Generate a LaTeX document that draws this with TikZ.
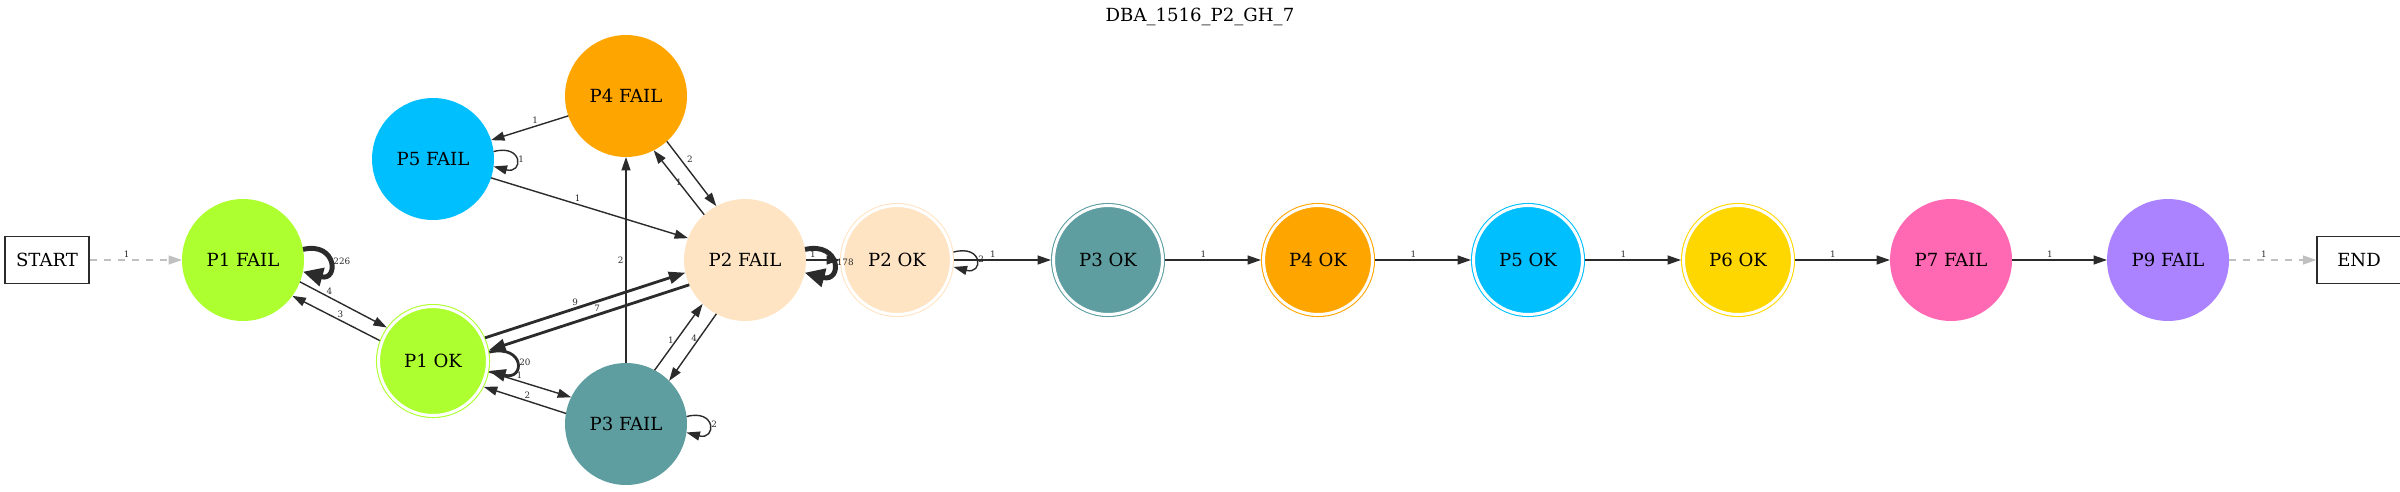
\documentclass[tikz,border=0pt]{standalone}
\usepackage{fontspec}
\setmainfont{DejaVu Serif}
\usetikzlibrary{arrows.meta}

\definecolor{edgecol}{HTML}{2B2B2B}
\definecolor{fadecol}{HTML}{C0C0C0}
\definecolor{p1col}{HTML}{ADFF2F}
\definecolor{p2col}{HTML}{FFE4C4}
\definecolor{p3col}{HTML}{5F9EA0}
\definecolor{p4col}{HTML}{FFA500}
\definecolor{p5col}{HTML}{00BFFF}
\definecolor{p6col}{HTML}{FFD700}
\definecolor{p7col}{HTML}{FF69B4}
\definecolor{p9col}{HTML}{AB82FF}

\begin{document}
\begin{tikzpicture}[
        x=0.02cm,y=-0.02cm,
        font=\fontsize{10.3}{12}\selectfont,
        fail/.style={circle,minimum size=2.44cm,inner sep=0pt,outer sep=0pt},
        ok/.style={circle,minimum size=2.18cm,inner sep=0pt,outer sep=0.05cm,
            line width=0.6pt,double=white,double distance=0.06cm},
        terminal/.style={draw=edgecol,line width=0.7pt,minimum width=1.68cm,
            minimum height=0.94cm,inner sep=0pt},
        arrow/.style={-{Triangle[length=2.7mm,width=1.8mm]},draw=edgecol,line width=0.8pt},
        heavy/.style={-{Triangle[length=3.3mm,width=2.4mm]},line width=1.6pt},
        loop heavy/.style={-{Triangle[length=4mm,width=3.6mm]},line width=2.8pt},
        faded/.style={-{Triangle[length=2.7mm,width=1.8mm]},draw=fadecol,
            dash pattern=on 4pt off 4pt,line width=0.8pt},
        lbl/.style={font=\fontsize{5}{6}\selectfont,text=edgecol,inner sep=1pt},
    ]
        \useasboundingbox (0,0) rectangle (2400,491);

        % title
        \node (title) at (1200,17) {DBA\_1516\_P2\_GH\_7};

        % ends
        \node (start) at (47,260)   [terminal] {START};
        \node (stop)  at (2359,260) [terminal] {END};

        % fail states
        \node (p1fail) at (243,260)  [fail,fill=p1col] {P1 FAIL};
        \node (p5fail) at (433,159)  [fail,fill=p5col] {P5 FAIL};
        \node (p4fail) at (626,96)   [fail,fill=p4col] {P4 FAIL};
        \node (p2fail) at (745,260)  [fail,fill=p2col] {P2 FAIL};
        \node (p3fail) at (626,424)  [fail,fill=p3col] {P3 FAIL};
        \node (p7fail) at (1951,260) [fail,fill=p7col] {P7 FAIL};
        \node (p9fail) at (2168,260) [fail,fill=p9col] {P9 FAIL};

        % ok states
        \node (p1ok) at (433,361)  [ok,draw=p1col,fill=p1col] {P1 OK};
        \node (p2ok) at (897,260)  [ok,draw=p2col,fill=p2col] {P2 OK};
        \node (p3ok) at (1108,260) [ok,draw=p3col,fill=p3col] {P3 OK};
        \node (p4ok) at (1318,260) [ok,draw=p4col,fill=p4col] {P4 OK};
        \node (p5ok) at (1528,260) [ok,draw=p5col,fill=p5col] {P5 OK};
        \node (p6ok) at (1738,260) [ok,draw=p6col,fill=p6col] {P6 OK};

        % p1
        \draw[faded] (start) -- (p1fail) node[lbl,pos=0.4,above] {1};
        \draw[arrow,loop heavy] (p1fail.10) .. controls +(34,-8) and +(36,10) .. (p1fail.-11)
            node[lbl,pos=0.5,right] {226};
        \draw[arrow] (p1fail.-21) -- (p1ok.144) node[lbl,pos=0.34,above] {4};
        \draw[arrow] (p1ok.159) -- (p1fail.-36) node[lbl,pos=0.45,above] {3};
        \draw[arrow,heavy] (p1ok.9) .. controls +(36,-8) and +(36,10) .. (p1ok.-10)
            node[lbl,pos=0.5,right] {20};
        \draw[arrow,heavy] (p1ok.24) -- (p2fail.192) node[lbl,pos=0.45,above] {9};
        \draw[arrow,heavy] (p2fail.204) -- (p1ok.11) node[lbl,pos=0.46,above] {7};
        \draw[arrow] (p1ok.-11) -- (p3fail.154) node[lbl,pos=0.37,above] {1};
        \draw[arrow] (p3fail.170) -- (p1ok.-27) node[lbl,pos=0.47,above] {2};

        % p4 and p5
        \draw[arrow] (p4fail.199) -- (p5fail.18) node[lbl,pos=0.43,above] {1};
        \draw[arrow] (p5fail.7) .. controls +(30,-8) and +(30,8) .. (p5fail.-7)
            node[lbl,pos=0.5,right] {1};
        \draw[arrow] (p5fail.-18) -- (p2fail.159) node[lbl,pos=0.44,above] {1};
        \draw[arrow] (p4fail.-48) -- (p2fail.118) node[lbl,pos=0.36,above right] {2};
        \draw[arrow] (p2fail.132) -- (p4fail.-63) node[lbl,pos=0.5] {1};
        \draw[arrow] (p3fail) -- (p4fail) node[lbl,pos=0.5,left] {2};

        % p2 and p3
        \draw[arrow] (p3fail.62) -- (p2fail.226) node[lbl,pos=0.45,left] {1};
        \draw[arrow] (p2fail.242) -- (p3fail.45) node[lbl,pos=0.36,left] {4};
        \draw[arrow] (p3fail.7) .. controls +(30,-8) and +(30,8) .. (p3fail.-8)
            node[lbl,pos=0.5,right] {2};
        \draw[arrow] (p2fail) -- (p2ok) node[lbl,pos=0.2,above] {1};
        \draw[arrow,loop heavy] (p2fail.10) .. controls +(36,-8) and +(38,10) .. (p2fail.-12)
            node[lbl,pos=0.5,right] {178};
        \draw[arrow] (p2ok.8) .. controls +(30,-8) and +(30,8) .. (p2ok.-7)
            node[lbl,pos=0.5,right] {2};

        % chain
        \draw[arrow] (p2ok) -- (p3ok) node[lbl,pos=0.4,above] {1};
        \draw[arrow] (p3ok) -- (p4ok) node[lbl,pos=0.4,above] {1};
        \draw[arrow] (p4ok) -- (p5ok) node[lbl,pos=0.4,above] {1};
        \draw[arrow] (p5ok) -- (p6ok) node[lbl,pos=0.4,above] {1};
        \draw[arrow] (p6ok) -- (p7fail) node[lbl,pos=0.4,above] {1};
        \draw[arrow] (p7fail) -- (p9fail) node[lbl,pos=0.4,above] {1};
        \draw[faded] (p9fail) -- (stop) node[lbl,pos=0.4,above] {1};
    \end{tikzpicture}
\end{document}
